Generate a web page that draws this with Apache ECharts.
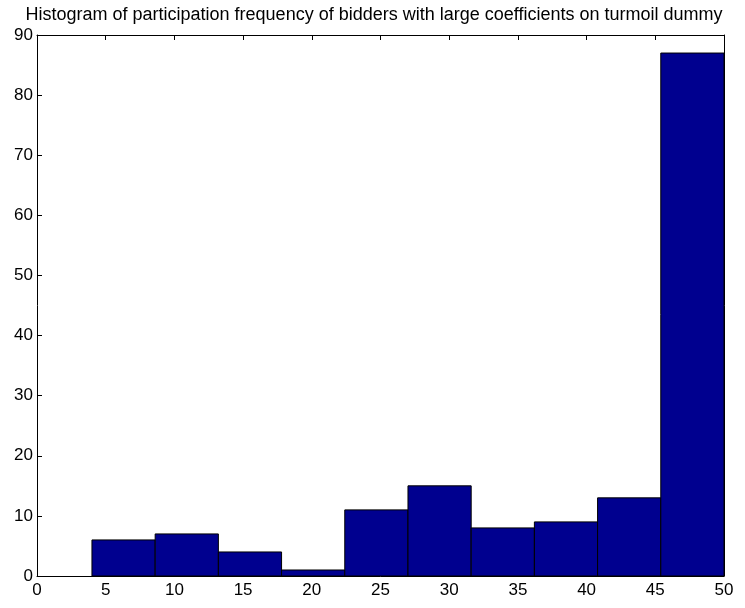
<!DOCTYPE html>
<html>
<head>
<meta charset="utf-8">
<script src="https://cdn.jsdelivr.net/npm/echarts@6/dist/echarts.min.js"></script>
<style>
  html, body { margin: 0; padding: 0; background: #fff; }
  #chart { width: 745px; height: 608px; }
</style>
</head>
<body>
<div id="chart"></div>
<script>
// bin edges (10 bins from 4 to 50) and counts
const binEdges = [4, 8.6, 13.2, 17.8, 22.4, 27, 31.6, 36.2, 40.8, 45.4, 50];
const counts = [6, 7, 4, 1, 11, 15, 8, 9, 13, 87];
const xTicks = [0, 5, 10, 15, 20, 25, 30, 35, 40, 45, 50];
const yTicks = [0, 10, 20, 30, 40, 50, 60, 70, 80, 90];

const bars = counts.map((c, i) => [binEdges[i], binEdges[i + 1], c]);

const font = 'Liberation Sans, Arial, Helvetica, sans-serif';
const chart = echarts.init(document.getElementById('chart'));

// shared axis look, matlab style box with ticks pointing inward
const axisLine = { show: true, onZero: false, lineStyle: { color: '#000', width: 1 } };
const axisTick = { show: true, inside: true, length: 5, lineStyle: { color: '#000' } };

chart.setOption({
  animation: false,
  title: {
    text: 'Histogram of participation frequency of bidders with large coefficients on turmoil dummy',
    left: 369,
    textAlign: 'center',
    top: 1,
    textStyle: { fontFamily: font, fontSize: 18, fontWeight: 'normal', color: '#000' }
  },
  grid: { left: 37, right: 21, top: 35, bottom: 32 },
  xAxis: [
    {
      type: 'value', min: 0, max: 50, interval: 5,
      axisLine, axisTick, splitLine: { show: false },
      axisLabel: { color: '#000', fontFamily: font, fontSize: 17, margin: 6 }
    },
    {
      type: 'value', position: 'top', min: 0, max: 50, interval: 5,
      axisLine, axisTick, splitLine: { show: false }, axisLabel: { show: false }
    }
  ],
  yAxis: [
    {
      type: 'value', min: 0, max: 90, interval: 10,
      axisLine, axisTick, splitLine: { show: false },
      axisLabel: { color: '#000', fontFamily: font, fontSize: 17, margin: 4 }
    },
    {
      type: 'value', position: 'right', min: 0, max: 90, interval: 10,
      axisLine, axisTick, splitLine: { show: false }, axisLabel: { show: false }
    }
  ],
  series: [{
    type: 'custom',
    xAxisIndex: 0,
    yAxisIndex: 0,
    data: bars,
    encode: { x: [0, 1], y: 2 },
    renderItem: function (params, api) {
      const p0 = api.coord([api.value(0), api.value(2)]);
      const p1 = api.coord([api.value(1), 0]);
      return {
        type: 'rect',
        shape: { x: p0[0], y: p0[1], width: p1[0] - p0[0], height: p1[1] - p0[1] },
        style: { fill: '#00008f', stroke: '#000', lineWidth: 1 }
      };
    }
  }]
});
</script>
</body>
</html>
